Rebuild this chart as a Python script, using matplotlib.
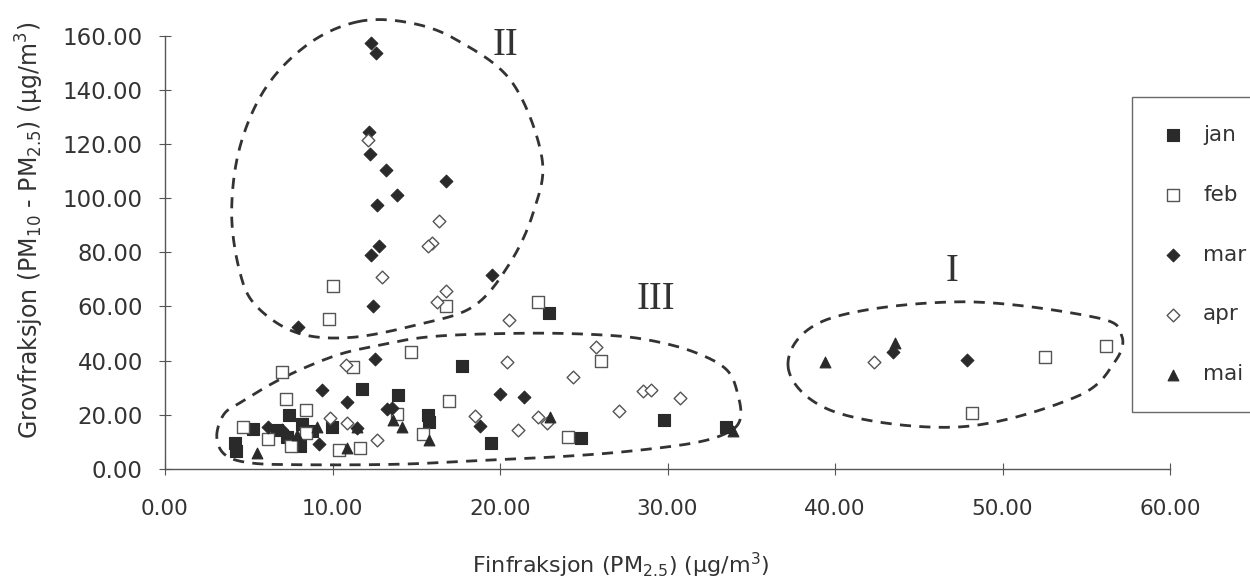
import matplotlib
matplotlib.use("Agg")
import matplotlib.pyplot as plt
import numpy as np

plt.rcParams['font.family'] = ['DejaVu Sans']
plt.rcParams['mathtext.fontset'] = 'dejavusans'

# data (PM2.5, PM10-PM2.5)
jan_x = [4.18, 4.24, 5.27, 6.66, 7.3, 7.42, 8.06, 8.2, 8.8, 9.95, 11.74, 13.93, 15.72, 15.76, 17.71, 19.44, 22.95, 24.82, 29.81, 33.47]
jan_y = [9.5, 6.4, 14.8, 14.4, 11.9, 20.0, 8.3, 16.5, 14.0, 15.6, 29.6, 27.1, 20.0, 17.3, 38.1, 9.7, 57.5, 11.3, 18.1, 15.4]

feb_x = [4.64, 6.17, 6.97, 7.22, 7.52, 8.42, 8.42, 9.77, 10.01, 10.41, 11.2, 11.64, 13.83, 14.67, 15.38, 16.76, 16.97, 22.29, 24.08, 26.0, 48.2, 52.54, 56.18]
feb_y = [15.3, 10.9, 35.7, 25.9, 8.3, 21.6, 13.2, 55.4, 67.4, 7.0, 37.6, 7.6, 20.2, 43.1, 12.8, 60.2, 24.9, 61.8, 11.7, 40.0, 20.6, 41.3, 45.2]

mar_x = [12.28, 12.58, 12.2, 12.26, 13.19, 16.76, 13.83, 12.66, 12.8, 12.32, 19.52, 12.4, 7.92, 12.54, 9.39, 10.84, 13.23, 13.53, 6.17, 7.0, 9.19, 11.44, 20.0, 21.43, 18.8, 43.48, 47.9]
mar_y = [157.3, 153.6, 124.3, 116.3, 110.4, 106.5, 101.3, 97.4, 82.3, 79.1, 71.7, 60.0, 52.4, 40.4, 29.2, 24.5, 22.0, 22.4, 15.6, 14.4, 9.2, 15.0, 27.6, 26.4, 15.9, 43.3, 40.3]

apr_x = [12.14, 16.36, 15.96, 15.68, 12.94, 16.78, 16.22, 20.56, 10.79, 12.64, 9.85, 10.84, 18.5, 25.73, 20.39, 24.38, 28.52, 29.01, 30.75, 27.12, 22.25, 22.79, 21.1, 42.35]
apr_y = [121.3, 91.5, 83.5, 82.4, 70.7, 65.7, 61.5, 54.8, 38.2, 10.5, 18.7, 17.1, 19.6, 45.0, 39.3, 34.1, 28.8, 29.2, 26.1, 21.2, 19.3, 17.1, 14.4, 39.3]

mai_x = [5.47, 7.9, 9.05, 10.84, 11.44, 13.59, 14.13, 15.78, 22.99, 33.9, 39.4, 43.58]
mai_y = [5.8, 12.6, 15.6, 7.6, 15.5, 18.1, 15.4, 10.7, 19.3, 13.8, 39.3, 46.4]

# outlines of the groups (hand drawn in the original)
grp_I = [(37.2, 37.7), (39.5, 55.1), (47.5, 61.7), (55.5, 56.0), (57.1, 49.5), (56.7, 39.5),
         (54.4, 26.6), (47.5, 15.5), (40.0, 21.0)]
grp_II = [(11.6, 165.3), (8.66, 157.4), (6.07, 141.3), (4.48, 119.1), (3.98, 94.5), (4.48, 72.4),
          (5.47, 60.0), (7.86, 50.3), (11.04, 48.5), (15.03, 53.2), (18.41, 60.0), (20.6, 76.1),
          (22.0, 95.0), (22.5, 115.0), (20.7, 143.0), (17.4, 158.5), (14.6, 164.8)]
grp_III = [(3.09, 11.9), (3.5, 20.0), (4.48, 24.4), (7.04, 33.6), (10.03, 41.5), (12.42, 45.2),
           (16.0, 48.9), (21.6, 50.1), (25.97, 49.5), (28.76, 47.7), (31.52, 43.3), (33.53, 36.6),
           (34.23, 26.7), (34.33, 18.1), (33.53, 13.2), (31.52, 9.5), (27.56, 6.4), (23.58, 4.5),
           (19.58, 3.3), (14.03, 1.7), (8.06, 1.5), (5.07, 2.2), (3.58, 5.2)]


def closed_spline(pts, n=40):
    # periodic catmull-rom through the points
    p = np.array(pts)
    k = len(p)
    out = []
    for i in range(k):
        p0, p1, p2, p3 = p[(i - 1) % k], p[i], p[(i + 1) % k], p[(i + 2) % k]
        t = np.linspace(0, 1, n, endpoint=False)[:, None]
        seg = 0.5 * ((2 * p1) + (-p0 + p2) * t + (2 * p0 - 5 * p1 + 4 * p2 - p3) * t ** 2
                     + (-p0 + 3 * p1 - 3 * p2 + p3) * t ** 3)
        out.append(seg)
    out.append(p[:1])
    return np.vstack(out)


fig = plt.figure(figsize=(12.5, 5.86), dpi=100)
ax = fig.add_axes([0.132, 0.2, 0.804, 0.739])

dark = '#2a2a2a'
ms = 75
ax.scatter(jan_x, jan_y, marker='s', s=ms, c=dark, edgecolors=dark, lw=0.8, label='jan', zorder=3)
ax.scatter(feb_x, feb_y, marker='s', s=ms, c='white', edgecolors='#555555', lw=1.0, label='feb', zorder=3)
ax.scatter(mar_x, mar_y, marker='D', s=42, c=dark, edgecolors=dark, lw=0.8, label='mar', zorder=3)
ax.scatter(apr_x, apr_y, marker='D', s=42, c='white', edgecolors='#555555', lw=1.0, label='apr', zorder=3)
ax.scatter(mai_x, mai_y, marker='^', s=60, c=dark, edgecolors=dark, lw=0.8, label='mai', zorder=3)

for g in (grp_I, grp_II, grp_III):
    c = closed_spline(g)
    ax.plot(c[:, 0], c[:, 1], color='#333333', lw=2.0, ls=(0, (4, 3)), zorder=2, clip_on=False)

ax.text(20.3, 156.5, 'II', family='Liberation Serif', fontsize=28, color='#333333', ha='center', va='center')
ax.text(29.3, 62.5, 'III', family='Liberation Serif', fontsize=28, color='#333333', ha='center', va='center')
ax.text(47.0, 72.8, 'I', family='Liberation Serif', fontsize=28, color='#333333', ha='center', va='center')

ax.set_xlim(0, 60)
ax.set_ylim(0, 160)
ax.set_xticks(np.arange(0, 61, 10))
ax.set_yticks(np.arange(0, 161, 20))
ax.xaxis.set_major_formatter(matplotlib.ticker.FormatStrFormatter('%.2f'))
ax.yaxis.set_major_formatter(matplotlib.ticker.FormatStrFormatter('%.2f'))
for s in ('top', 'right'):
    ax.spines[s].set_visible(False)
for s in ('left', 'bottom'):
    ax.spines[s].set_color('#555555')
    ax.spines[s].set_linewidth(1.0)
ax.tick_params(axis='x', direction='inout', length=8, color='#555555', labelsize=15.5,
               labelcolor='#333333', pad=18)
ax.tick_params(axis='y', direction='inout', length=8, color='#555555', labelsize=16.5,
               labelcolor='#333333', pad=12)

ax.set_xlabel('Finfraksjon (PM$_{2.5}$) (µg/m$^3$)', fontsize=16, color='#333333')
ax.xaxis.set_label_coords(0.453, -0.19)
ax.set_ylabel('Grovfraksjon (PM$_{10}$ - PM$_{2.5}$) (µg/m$^3$)', fontsize=17, color='#333333')
ax.yaxis.set_label_coords(-0.118, 0.55)

leg = ax.legend(loc='upper left', bbox_to_anchor=(1132 / 1250, 1 - 97 / 586),
                bbox_transform=fig.transFigure, frameon=True, fancybox=False,
                fontsize=15.5, labelspacing=1.85, handletextpad=0.8, borderpad=1.3,
                handlelength=1.2, borderaxespad=0)
leg.get_frame().set_edgecolor('#444444')
leg.get_frame().set_linewidth(1.0)
for t in leg.get_texts():
    t.set_color('#333333')

fig.savefig('out.png', dpi=100, facecolor='white')
